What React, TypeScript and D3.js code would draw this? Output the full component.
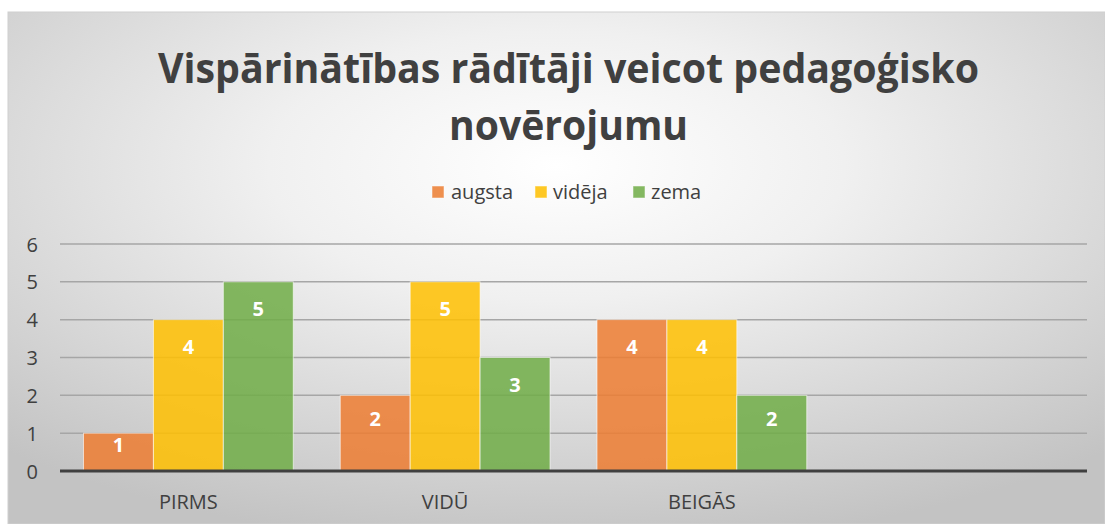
import React from "react";
import * as d3 from "d3";

const categories = ["PIRMS", "VIDŪ", "BEIGĀS", ""];
const seriesNames = ["augsta", "vidēja", "zema"];
const augsta = [1, 2, 4, null];
const videja = [4, 5, 4, null];
const zema = [5, 3, 2, null];
const yTicks = [0, 1, 2, 3, 4, 5, 6];
const colors = ["#ED7D31", "#FFC000", "#70AD47"];
const titleLines = ["Vispārinātības rādītāji veicot pedagoģisko", "novērojumu"];

const W = 1105;
const H = 524;
const FONT = "'Open Sans', sans-serif";

export default function App() {
  const series = [augsta, videja, zema];
  const x0 = d3.scaleBand<string>().domain(categories).range([60, 1087]).paddingInner(0).paddingOuter(0);
  const x1 = d3
    .scaleBand<string>()
    .domain(seriesNames)
    .range([0, x0.bandwidth()])
    .paddingInner(0)
    .paddingOuter(0.336);
  const y = d3.scaleLinear().domain([0, 6]).range([471, 244]);

  const legendItems = [
    { name: seriesNames[0], sx: 432, tx: 451 },
    { name: seriesNames[1], sx: 535, tx: 553 },
    { name: seriesNames[2], sx: 633, tx: 651 },
  ];

  return (
    <svg width={W} height={H} style={{ position: "absolute", left: 0, top: 0, display: "block" }}>
      <defs>
        <radialGradient id="bg" cx="0.5" cy="0.3" r="0.75" gradientUnits="objectBoundingBox">
          <stop offset="0" stopColor="#ffffff" />
          <stop offset="0.35" stopColor="#f0f0f0" />
          <stop offset="1" stopColor="#c3c3c3" />
        </radialGradient>
      </defs>
      <rect x={0} y={0} width={W} height={H} fill="#ffffff" />
      <rect x={8} y={12} width={W - 8} height={H - 12} fill="url(#bg)" stroke="#d0d0d0" strokeWidth={1} />

      {titleLines.map((t, i) => (
        <text
          key={i}
          x={568.5}
          y={i === 0 ? 83 : 140}
          textAnchor="middle"
          fontFamily={FONT}
          fontWeight={700}
          fontSize={41}
          fill="#404040"
          textLength={i === 0 ? 821 : 239}
          lengthAdjust="spacingAndGlyphs"
        >
          {t}
        </text>
      ))}

      {legendItems.map((l, i) => (
        <g key={l.name}>
          <rect x={l.sx} y={186} width={12} height={12} fill={colors[i]} opacity={0.85} stroke="#ffffff" strokeOpacity={0.5} />
          <text x={l.tx} y={199} fontFamily={FONT} fontSize={20} fill="#404040">
            {l.name}
          </text>
        </g>
      ))}

      {yTicks.map((t) => (
        <g key={t}>
          {t > 0 && (
            <line x1={60} x2={1087} y1={y(t)} y2={y(t)} stroke="#a6a6a6" strokeWidth={1.5} />
          )}
          <text
            x={38}
            y={y(t)}
            textAnchor="end"
            dominantBaseline="central"
            fontFamily={FONT}
            fontSize={20}
            fill="#404040"
          >
            {t}
          </text>
        </g>
      ))}

      {categories.map((c, ci) => (
        <g key={ci}>
          {series.map((s, si) => {
            const v = s[ci];
            if (v == null) return null;
            const bx = (x0(c) as number) + (x1(seriesNames[si]) as number);
            const top = y(v);
            const h = y(0) - top;
            const labelY = top + Math.min(27, h * 0.3);
            return (
              <g key={si}>
                <rect
                  x={bx}
                  y={top}
                  width={x1.bandwidth()}
                  height={h}
                  fill={colors[si]}
                  fillOpacity={0.85}
                  stroke="#ffffff"
                  strokeOpacity={0.6}
                  strokeWidth={1}
                />
                <text
                  x={bx + x1.bandwidth() / 2}
                  y={labelY}
                  textAnchor="middle"
                  dominantBaseline="central"
                  fontFamily={FONT}
                  fontWeight={700}
                  fontSize={20}
                  fill="#ffffff"
                >
                  {v}
                </text>
              </g>
            );
          })}
          <text
            x={(x0(c) as number) + x0.bandwidth() / 2}
            y={509}
            textAnchor="middle"
            fontFamily={FONT}
            fontSize={20}
            fill="#404040"
          >
            {c}
          </text>
        </g>
      ))}

      <line x1={60} x2={1087} y1={y(0)} y2={y(0)} stroke="#404040" strokeWidth={3} />
    </svg>
  );
}
